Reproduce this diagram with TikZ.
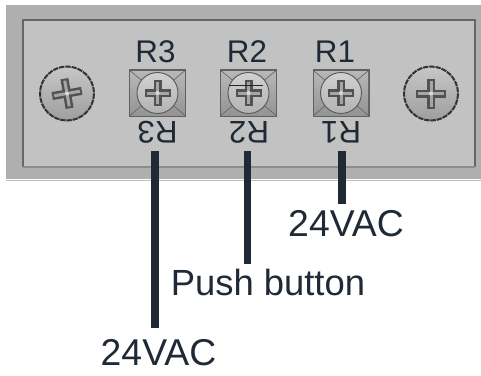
\documentclass[tikz,border=0pt]{standalone}
\usepackage{fontspec}
\setmainfont{Liberation Sans}
\definecolor{ink}{HTML}{1F2A36}
\definecolor{plate}{HTML}{C2C2C2}
\definecolor{rim}{HTML}{AFAFAF}
\tikzset{
  lbl/.style={text=ink,font=\fontsize{23.5}{23.5}\selectfont,inner sep=0pt},
  biglbl/.style={text=ink,font=\fontsize{28}{28}\selectfont,inner sep=0pt},
  pushlbl/.style={text=ink,font=\fontsize{27.3}{27.3}\selectfont,inner sep=0pt},
  wire/.style={ink,line width=5.4pt},
}
\newcommand{\crossmark}[3]{%
  \begin{scope}[shift={(#1)},rotate=#2]
  \fill[black!68] (-#3,-4) rectangle (#3,4);
  \fill[black!68] (-4,-#3) rectangle (4,#3);
  \fill[black!35] (-#3+2,-1.5) rectangle (#3-2,1.5);
  \fill[black!35] (-1.5,-#3+2) rectangle (1.5,#3-2);
  \fill[black!15] (0,0) circle (2);
  \end{scope}
}
\newcommand{\roundscrew}[2]{%
  \shade[top color=black!22,bottom color=black!38] (#1) circle (27.5);
  \draw[black!80,line width=1.5pt,dash pattern=on 4pt off .7pt] (#1) circle (27);
  \crossmark{#1}{#2}{15}
}
\newcommand{\squarescrew}[1]{%
  \fill[black!62] (#1) ++(-28.5,-24) rectangle ++(57,48);
  \shade[top color=black!28,bottom color=black!42] (#1) ++(-27,-22) rectangle ++(54,44);
  \draw[black!60,line width=.5pt] (#1) ++(-27,-22) -- ++(12,10);
  \draw[black!60,line width=.5pt] (#1) ++(27,-22) -- ++(-12,10);
  \draw[black!60,line width=.5pt] (#1) ++(-27,22) -- ++(12,-10);
  \draw[black!60,line width=.5pt] (#1) ++(27,22) -- ++(-12,-10);
  \shade[top color=black!18,bottom color=black!30] (#1) circle (20.5);
  \draw[black!65,line width=.7pt] (#1) circle (20.5);
  \crossmark{#1}{0}{13}
}
\begin{document}
\begin{tikzpicture}[x=.75pt,y=-.75pt]
\useasboundingbox (0,0) rectangle (481,375);
\fill[white] (0,0) rectangle (481,375);
\fill[rim] (6,5) rectangle (481,179);
\draw[black!25,line width=.75pt] (6,180) -- (481,180);
\fill[plate] (23,20) rectangle (475,167);
\draw[black!60,line width=1.2pt] (23,167) -- (23,20) -- (475,20) -- (475,167);
\draw[black!45,line width=1.2pt] (23,167) -- (475,167);
\roundscrew{67,93.5}{10}
\roundscrew{431,93.5}{0}
\squarescrew{157.5,93}
\squarescrew{248.5,93}
\squarescrew{341,93}
\draw[black!85,line width=.6pt] (229,85) -- (263,85);
\coordinate (w3a) at (155,151);
\coordinate (w3b) at (155,328);
\coordinate (w2a) at (247.5,151);
\coordinate (w2b) at (247.5,264);
\coordinate (w1a) at (342,151);
\coordinate (w1b) at (342,204);
\draw[wire] (w3a) -- (w3b);
\draw[wire] (w2a) -- (w2b);
\draw[wire] (w1a) -- (w1b);
\node[lbl] (r3t) at (155.5,52) {R3};
\node[lbl] (r2t) at (247,52) {R2};
\node[lbl] (r1t) at (335,52) {R1};
\node[lbl,rotate=180] (r3b) at (157.5,132.5) {R3};
\node[lbl,rotate=180] (r2b) at (249,132.5) {R2};
\node[lbl,rotate=180] (r1b) at (341,132.5) {R1};
\node[biglbl] (v1) at (346,224) {24VAC};
\node[pushlbl] (pb) at (268,282) {Push button};
\node[biglbl] (v3) at (158.5,353) {24VAC};
\end{tikzpicture}
\end{document}
